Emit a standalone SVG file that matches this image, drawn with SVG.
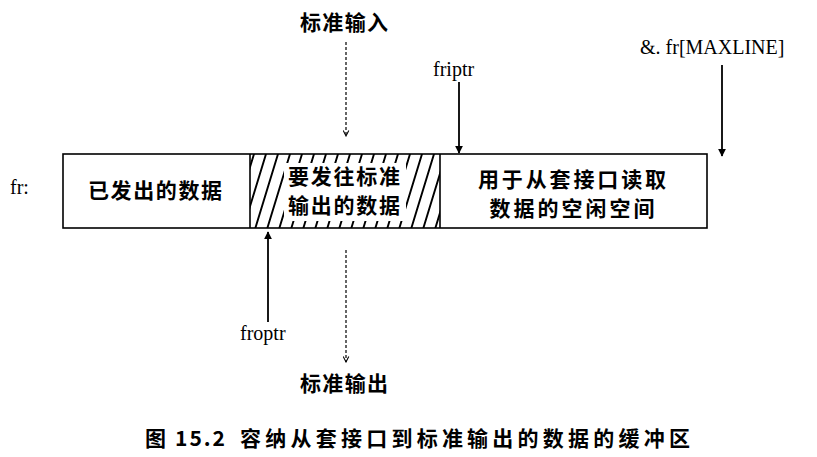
<svg xmlns="http://www.w3.org/2000/svg" width="817" height="457" viewBox="0 0 817 457">
<style>
.cjk{font-family:"Noto Sans CJK SC","Noto Sans CJK JP",sans-serif;font-weight:bold;font-size:21px;fill:#000}
.lat{font-family:"Liberation Serif",serif;font-size:20px;fill:#000}
.box{fill:#fff;stroke:#000;stroke-width:1.6}
.solid{stroke:#000;stroke-width:1.8;fill:none}
.dot{stroke:#000;stroke-width:1.2;fill:none;stroke-dasharray:3 2}
</style>
<defs>
<marker id="ah" viewBox="0 0 10 10" refX="9" refY="5" markerWidth="8" markerHeight="8" markerUnits="userSpaceOnUse" orient="auto">
<path d="M0,0 L10,5 L0,10 Z" fill="#000"/>
</marker>
<marker id="oh" viewBox="0 0 10 10" refX="9" refY="5" markerWidth="7" markerHeight="7" markerUnits="userSpaceOnUse" orient="auto">
<path d="M1,1 L9,5 L1,9" fill="none" stroke="#000" stroke-width="1.5"/>
</marker>
<pattern id="hatch" patternUnits="userSpaceOnUse" width="12" height="74" patternTransform="translate(250,154) skewX(-17)">
<line x1="4" y1="0" x2="4" y2="74" stroke="#000" stroke-width="2"/>
</pattern>
<clipPath id="mid"><rect x="250" y="154" width="190" height="74"/></clipPath>
</defs>
<rect width="817" height="457" fill="#fff"/>
<g id="buffer">
<rect class="box" x="63" y="154" width="644" height="74"/>
<g clip-path="url(#mid)">
<rect x="250" y="154" width="190" height="74" fill="url(#hatch)"/>
<rect x="284" y="163" width="122" height="58" fill="#fff"/>
</g>
<line class="box" x1="250" y1="154" x2="250" y2="228"/>
<line class="box" x1="440" y1="154" x2="440" y2="228"/>
<text class="lat" x="10" y="194">fr:</text>
</g>
<g id="sent">
<text class="cjk" x="155" y="198" text-anchor="middle" textLength="134" lengthAdjust="spacing">已发出的数据</text>
</g>
<g id="pending">
<text class="cjk" x="344" y="184" text-anchor="middle" textLength="112" lengthAdjust="spacing">要发往标准</text>
<text class="cjk" x="344" y="213" text-anchor="middle" textLength="112" lengthAdjust="spacing">输出的数据</text>
</g>
<g id="free">
<text class="cjk" x="572" y="187" font-size="20" text-anchor="middle" textLength="188" lengthAdjust="spacing">用于从套接口读取</text>
<text class="cjk" x="572" y="216" font-size="20" text-anchor="middle" textLength="165" lengthAdjust="spacing">数据的空闲空间</text>
</g>
<g id="stdin"><text class="cjk" x="344" y="30" text-anchor="middle" textLength="88" lengthAdjust="spacing">标准输入</text></g>
<g id="stdout"><text class="cjk" x="344" y="391" text-anchor="middle" textLength="88" lengthAdjust="spacing">标准输出</text></g>
<g id="friptr"><text class="lat" x="433" y="76">friptr</text></g>
<g id="froptr"><text class="lat" x="240" y="340">froptr</text></g>
<g id="maxline"><text class="lat" x="640" y="54" font-size="22">&amp;. fr[MAXLINE]</text></g>
<g id="connectors">
<line class="dot" x1="346" y1="42" x2="346" y2="136" marker-end="url(#oh)"/>
<line class="solid" x1="459" y1="82" x2="459" y2="153" marker-end="url(#ah)"/>
<line class="solid" x1="722" y1="65" x2="722" y2="156" marker-end="url(#ah)"/>
<line class="solid" x1="268" y1="322" x2="268" y2="232" marker-end="url(#ah)"/>
<line class="dot" x1="346" y1="250" x2="346" y2="362" marker-end="url(#oh)"/>
</g>
<g id="caption">
<text class="cjk" x="145" y="446" font-size="20">图</text>
<text class="cjk" x="175" y="446" font-size="20" textLength="50" lengthAdjust="spacing">15.2</text>
<text class="cjk" x="240" y="446" font-size="20" textLength="450" lengthAdjust="spacing">容纳从套接口到标准输出的数据的缓冲区</text>
</g>
</svg>
